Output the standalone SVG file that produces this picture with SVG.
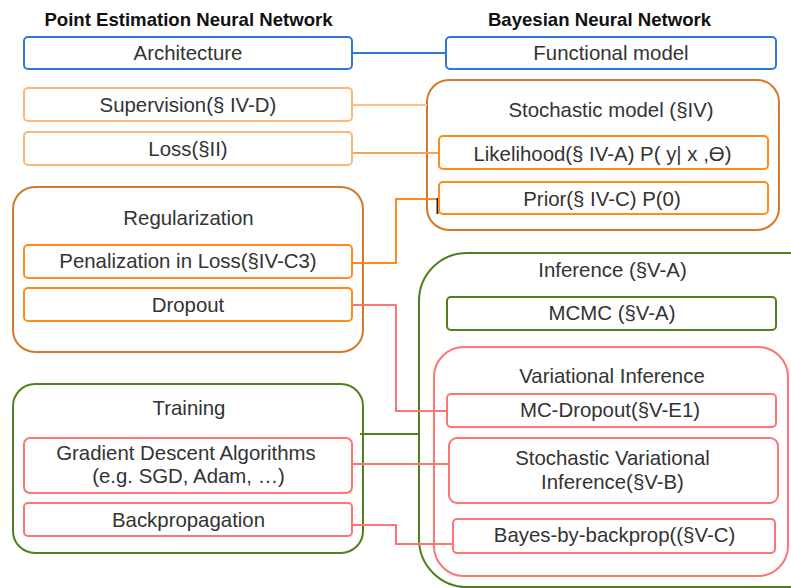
<svg xmlns="http://www.w3.org/2000/svg" width="791" height="588" viewBox="0 0 791 588">
<style>
text{font-family:"Liberation Sans",Arial,sans-serif;font-size:20.4px;fill:#333;text-anchor:middle}
.title{font-weight:bold;font-size:18.6px;fill:#111}
rect{fill:#fff;stroke-width:2}
.blue{stroke:#2b7bd3}
.lor{stroke:#ffb874}
.or{stroke:#ff8c1a}
.dor{stroke:#d4782a}
.grn{stroke:#4f801c}
.pink{stroke:#ff7373}
.c{fill:none;stroke-width:2}
</style>
<rect x="0" y="0" width="791" height="588" style="fill:#fff;stroke:none"/>
<text class="title" x="188.5" y="26">Point Estimation Neural Network</text>
<text class="title" x="599.5" y="26">Bayesian Neural Network</text>

<g id="inference">
<rect class="grn" x="419" y="253" width="420" height="334" rx="48"/>
<text x="612.5" y="277">Inference (§V-A)</text>
</g>
<g id="variational">
<rect class="pink" x="434" y="347" width="354" height="229" rx="30"/>
<text x="612" y="383">Variational Inference</text>
</g>
<g id="stochastic">
<rect class="dor" x="427" y="80" width="352" height="150" rx="22"/>
<text x="611" y="117">Stochastic model (§IV)</text>
</g>
<g id="regularization">
<rect class="dor" x="13" y="187" width="350" height="165" rx="22"/>
<text x="188.5" y="225">Regularization</text>
</g>
<g id="training">
<rect class="grn" x="13" y="384" width="350" height="169" rx="22"/>
<text x="189" y="415">Training</text>
</g>

<g id="connectors" class="c">
<path class="c blue" d="M352 53H446"/>
<path class="c" stroke="#ffc08a" d="M352 105H427"/>
<path class="c" stroke="#f5a35a" d="M352 153H439"/>
<path class="c or" d="M352 263H396V199H439"/>
<path class="c" stroke="#222" stroke-width="1.5" d="M437.5 198V214"/>
<path class="c pink" d="M352 305H396V411H447"/>
<path class="c grn" d="M360 434H420"/>
<path class="c pink" d="M352 464H449"/>
<path class="c pink" d="M352 525H396V544H453"/>
</g>

<g id="architecture">
<rect class="blue" x="24" y="37" width="328" height="32" rx="4"/>
<text x="188" y="60">Architecture</text>
</g>
<g id="functional">
<rect class="blue" x="446" y="37" width="330" height="32" rx="4"/>
<text x="611" y="60">Functional model</text>
</g>
<g id="supervision">
<rect class="lor" x="24" y="88" width="328" height="33" rx="4"/>
<text x="188" y="112">Supervision(§ IV-D)</text>
</g>
<g id="loss">
<rect class="lor" x="24" y="132" width="328" height="33" rx="4"/>
<text x="188" y="156">Loss(§II)</text>
</g>
<g id="likelihood">
<rect class="or" x="439" y="136" width="329" height="33" rx="4"/>
<text x="602.5" y="161">Likelihood(§ IV-A) P( y| x ,ϴ)</text>
</g>
<g id="prior">
<rect class="or" x="439" y="182" width="329" height="32" rx="4"/>
<text x="602" y="206">Prior(§ IV-C) P(0)</text>
</g>
<g id="penalization">
<rect class="or" x="24" y="245" width="328" height="33" rx="4"/>
<text x="188" y="268">Penalization in Loss(§IV-C3)</text>
</g>
<g id="dropout">
<rect class="or" x="24" y="288" width="328" height="33" rx="4"/>
<text x="188" y="312">Dropout</text>
</g>
<g id="mcmc">
<rect class="grn" x="447" y="297" width="329" height="33" rx="4"/>
<text x="612" y="320">MCMC (§V-A)</text>
</g>
<g id="mcdropout">
<rect class="pink" x="447" y="394" width="329" height="33" rx="4"/>
<text x="610" y="417">MC-Dropout(§V-E1)</text>
</g>
<g id="svi">
<rect class="pink" x="449" y="438" width="329" height="65" rx="8"/>
<text x="612.5" y="465">Stochastic Variational</text>
<text x="612.5" y="489">Inference(§V-B)</text>
</g>
<g id="bbb">
<rect class="pink" x="453" y="519" width="322" height="34" rx="4"/>
<text x="614.5" y="542">Bayes-by-backprop((§V-C)</text>
</g>
<g id="gradient">
<rect class="pink" x="24" y="438" width="328" height="55" rx="6"/>
<text x="186" y="460">Gradient Descent Algorithms</text>
<text x="188.5" y="483">(e.g. SGD, Adam, …)</text>
</g>
<g id="backprop">
<rect class="pink" x="24" y="503" width="328" height="33" rx="4"/>
<text x="188.5" y="527">Backpropagation</text>
</g>
</svg>
